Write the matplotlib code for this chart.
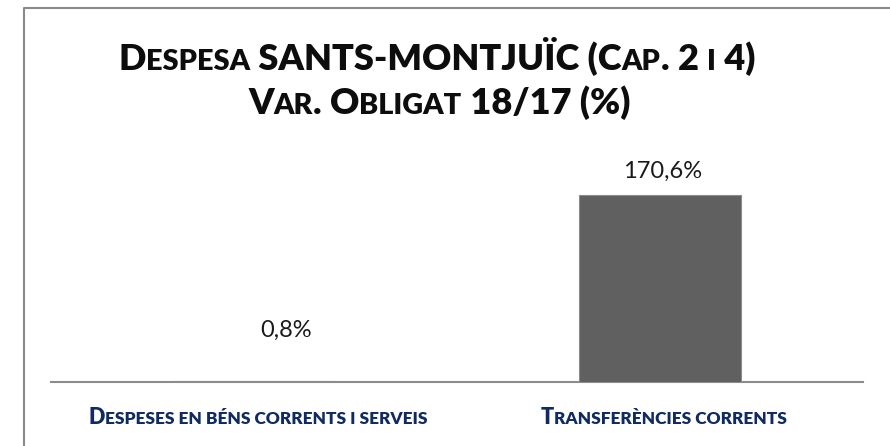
import matplotlib
matplotlib.use('Agg')
import matplotlib.pyplot as plt
from matplotlib.lines import Line2D
from matplotlib.transforms import IdentityTransform

# data
categories = ['Despeses en béns corrents i serveis', 'Transferències corrents']
values = [0.8, 170.6]
value_labels = ['0,8%', '170,6%']
title_lines = ['Despesa SANTS-MONTJUÏC (Cap. 2 i 4)', 'Var. Obligat 18/17 (%)']

W, H = 890, 446
FONT = 'Lato'

fig = plt.figure(figsize=(W / 100, H / 100), dpi=100)
ax = fig.add_axes([51 / W, (H - 382) / H, 812 / W, 219.2 / H])
rend = fig.canvas.get_renderer()


def runs_of(s):
    # lowercase letters become small capitals, spaces/punct follow their neighbours
    out = []
    for i, c in enumerate(s):
        if c.isalpha():
            small = c.islower()
        else:
            prev = out[-1][0] if out else False
            nxt = s[i + 1].islower() if i + 1 < len(s) else False
            small = prev and nxt
        if out and out[-1][0] == small:
            out[-1][1] += c
        else:
            out.append([small, c])
    return out


def small_caps(xc, y, s, size, color, ratio=0.8, weight='heavy'):
    pieces = []
    for small, txt in runs_of(s):
        fs = size * ratio if small else size
        t = fig.text(0, y, txt.upper() + '|', fontsize=fs, family=FONT, weight=weight,
                     color=color, transform=IdentityTransform(), ha='left', va='baseline')
        w1 = t.get_window_extent(rend).width
        t.set_text('|')
        w0 = t.get_window_extent(rend).width
        t.set_text(txt.upper())
        pieces.append((t, w1 - w0))
    total = sum(w for _, w in pieces)
    x = xc - total / 2
    for t, w in pieces:
        t.set_x(x)
        x += w


bars = ax.bar(range(len(values)), values, width=0.4, color='#606060',
              edgecolor='#8c8c8c', linewidth=0.8, zorder=2)
ax.set_xlim(-0.5, 1.5)
ax.set_ylim(0, 200)
for sp in ['top', 'left', 'right']:
    ax.spines[sp].set_visible(False)
ax.spines['bottom'].set_color('#8c8c8c')
ax.spines['bottom'].set_linewidth(1.5)
ax.spines['bottom'].set_zorder(1)
ax.set_xticks([])
ax.set_yticks([])

# value labels, offset in pixels from the bar tops
label_offsets = [(32, 44), (3, 17)]
for i, (v, lab) in enumerate(zip(values, value_labels)):
    ax.annotate(lab, xy=(i, v), xytext=label_offsets[i], textcoords='offset pixels',
                ha='center', va='baseline', fontsize=17, family=FONT, color='#1a1a1a')

# category labels under the axis
for i, cat in enumerate(categories):
    xc = ax.transData.transform((i, 0))[0] + 4
    small_caps(xc, H - 424, cat, 15.5, '#102A62')

# title
small_caps(437, H - 70, title_lines[0], 26, '#0d0d0d')
small_caps(439, H - 114, title_lines[1], 26, '#0d0d0d')

# chart frame (left and top edges)
fig.add_artist(Line2D([23.5 / W, 23.5 / W, 1], [0, 1 - 7.5 / H, 1 - 7.5 / H],
                      transform=fig.transFigure, color='#8a8a8a', lw=1.5))

fig.savefig('out.png', dpi=100)
